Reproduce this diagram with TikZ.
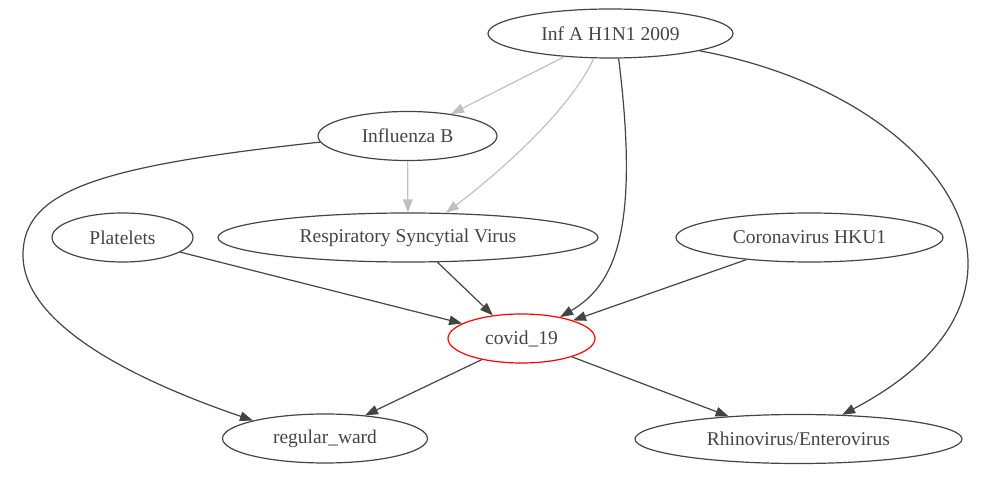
\documentclass[tikz,border=0pt]{standalone}
\usepackage{fontspec}
\setmainfont{Liberation Serif}
\usetikzlibrary{shapes.geometric,arrows.meta}

\definecolor{inkgray}{HTML}{444444}
\definecolor{lightedge}{HTML}{C0C0C0}

\begin{document}
\begin{tikzpicture}[x=1pt, y=-1pt,
	var/.style={ellipse, draw=inkgray, line width=1.2pt, text=inkgray, inner sep=0pt,
		minimum height=49pt, font=\fontsize{19.5}{23}\selectfont},
	target/.style={var, draw=red},
	link/.style={draw=inkgray, line width=1.2pt, -{Triangle[length=13pt,width=9.5pt]}},
	softlink/.style={link, draw=lightedge}]

	\useasboundingbox (0,0) rectangle (986,478);

	\node[var, minimum width=245pt] (infa) at (610.5,33.5) {Inf A H1N1 2009};
	\node[var, minimum width=179pt] (infb) at (407.5,136) {Influenza B};
	\node[var, minimum width=141pt] (plat) at (122.5,237.5) {Platelets};
	\node[var, minimum width=380pt] (rsv) at (408,237.5) {Respiratory Syncytial Virus};
	\node[var, minimum width=267pt] (hku) at (809.5,237.5) {Coronavirus HKU1};
	\node[target, minimum width=147pt] (covid) at (521.5,338.5) {covid\_19};
	\node[var, minimum width=205pt] (ward) at (325,438.5) {regular\_ward};
	\node[var, minimum width=327pt] (rhino) at (798.5,439) {Rhinovirus/Enterovirus};

	\draw[softlink] (infa) -- (infb);
	\draw[softlink] (infa.236) .. controls (570,110) and (500,172) .. (rsv.33);
	\draw[softlink] (infb) -- (rsv);

	\draw[link] (infa.288) .. controls (640,230) and (615,285) .. (covid.29);
	\draw[link] (infa.349) .. controls (940,95) and (1080,290) .. (rhino.29);
	\draw[link] (infb.184) .. controls (100,166) and (23,190) .. (23,255)
		.. controls (23,320) and (120,375) .. (ward.166);

	\draw[link] (plat) -- (covid);
	\draw[link] (rsv.320) -- (covid.141);
	\draw[link] (hku) -- (covid);

	\draw[link] (covid.208) -- (ward.30);
	\draw[link] (covid.340) -- (rhino.162);

\end{tikzpicture}
\end{document}
